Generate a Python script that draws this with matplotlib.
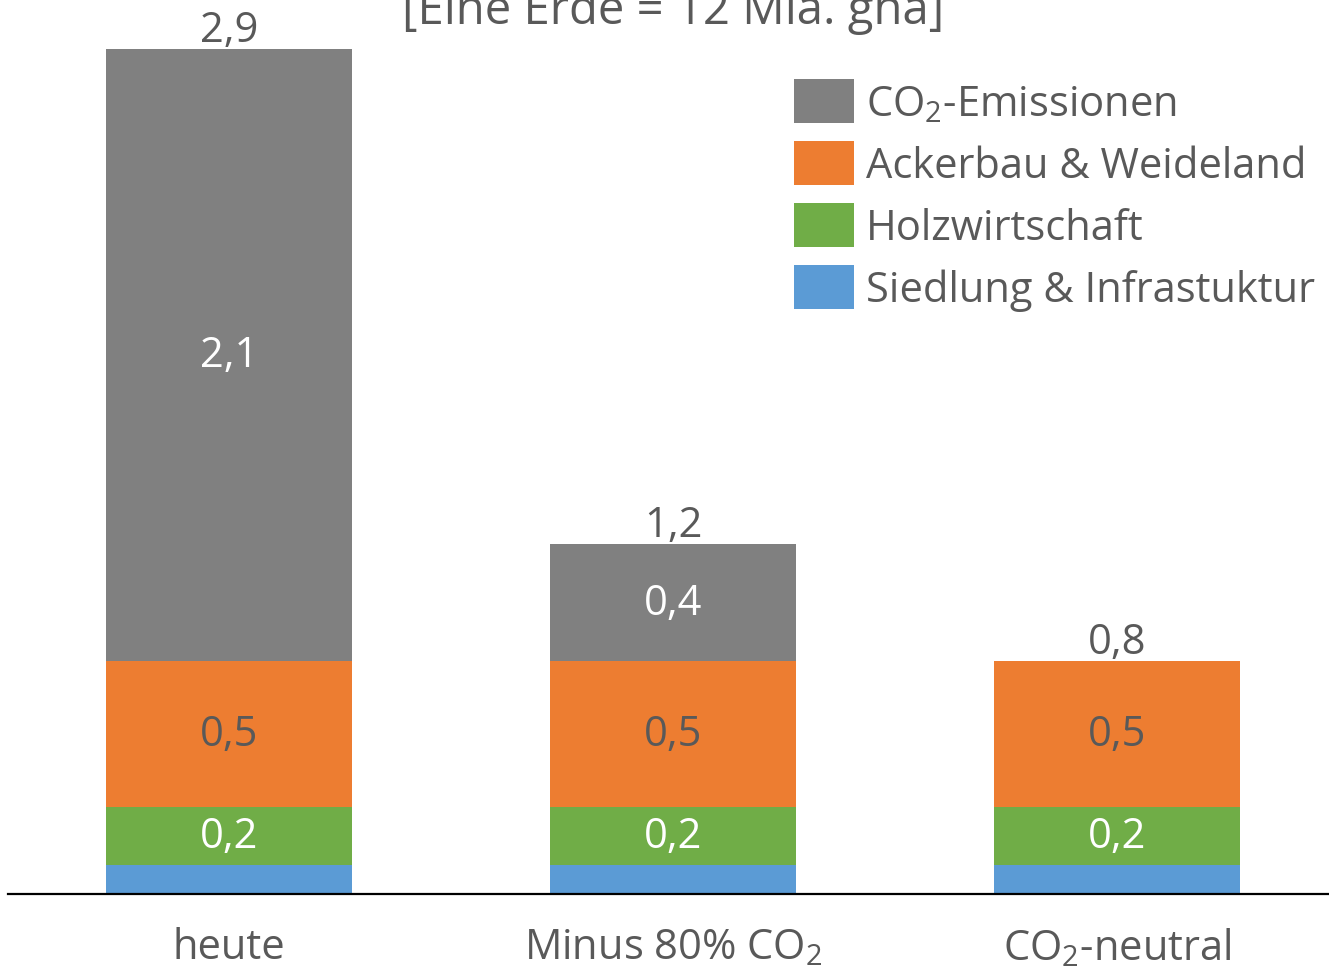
import matplotlib
matplotlib.use("Agg")
import matplotlib.pyplot as plt
import numpy as np

plt.rcParams['font.family'] = ['Open Sans', 'DejaVu Sans']
plt.rcParams['mathtext.fontset'] = 'custom'
plt.rcParams['mathtext.rm'] = 'Open Sans'
plt.rcParams['mathtext.it'] = 'Open Sans'
plt.rcParams['mathtext.default'] = 'regular'

# Scenarios and footprint components (in Erden)
categories = ["heute", "Minus 80% CO$_2$", "CO$_2$-neutral"]
siedlung = [0.1, 0.1, 0.1]
holz = [0.2, 0.2, 0.2]
acker = [0.5, 0.5, 0.5]
co2 = [2.1, 0.4, 0.0]

series_names = ["Siedlung & Infrastuktur", "Holzwirtschaft",
                "Ackerbau & Weideland", "CO$_2$-Emissionen"]
series_values = [siedlung, holz, acker, co2]
series_colors = ["#5B9BD5", "#70AD47", "#ED7D31", "#808080"]
label_colors = [None, "white", "#595959", "white"]

text_color = "#595959"
W, H = 1329, 970
fig = plt.figure(figsize=(W / 100, H / 100), dpi=100)
ax = fig.add_axes([8 / W, (H - 895) / H, (W - 8) / W, 895 / H])

x = np.arange(len(categories))
bottom = np.zeros(len(categories))
handles = []
for name, vals, col, lcol in zip(series_names, series_values, series_colors, label_colors):
    vals = np.array(vals)
    bars = ax.bar(x, vals, width=0.554, bottom=bottom, color=col,
                  edgecolor='none', label=name)
    handles.append(bars)
    if lcol is not None:
        for xi, v, b in zip(x, vals, bottom):
            if v > 0:
                ax.text(xi, b + v / 2, f"{v:.1f}".replace('.', ','),
                        ha='center', va='center', fontsize=30, color=lcol)
    bottom += vals

# Totals above each stack
for xi, tot in zip(x, bottom):
    ax.text(xi, tot + 0.028, f"{tot:.1f}".replace('.', ','), ha='center',
            va='baseline', fontsize=30, color=text_color)

ax.set_xlim(-221 / 444, (W - 8 - 221) / 444)
ax.set_ylim(0, 2.9 * 895 / 845)
ax.set_xticks(x)
ax.set_xticklabels(categories, fontsize=30, color=text_color)
ax.tick_params(axis='x', length=0, pad=23)
ax.set_yticks([])
for s in ['top', 'right', 'left']:
    ax.spines[s].set_visible(False)
ax.spines['bottom'].set_linewidth(1.6)
ax.spines['bottom'].set_color('black')

leg = ax.legend(handles=handles[::-1], labels=series_names[::-1],
                loc='upper left', bbox_to_anchor=(794 / W, 1 - 80 / H),
                bbox_transform=fig.transFigure, frameon=False,
                fontsize=30, handlelength=1.45, handleheight=1.246,
                handletextpad=0.28, labelspacing=0.385, borderpad=0,
                borderaxespad=0)
for t in leg.get_texts():
    t.set_color(text_color)

fig.text(673 / W, 1 - 24 / H, "[Eine Erde = 12 Mia. gha]", ha='center',
         va='baseline', fontsize=34, color=text_color)

fig.savefig("out.png", dpi=100)
